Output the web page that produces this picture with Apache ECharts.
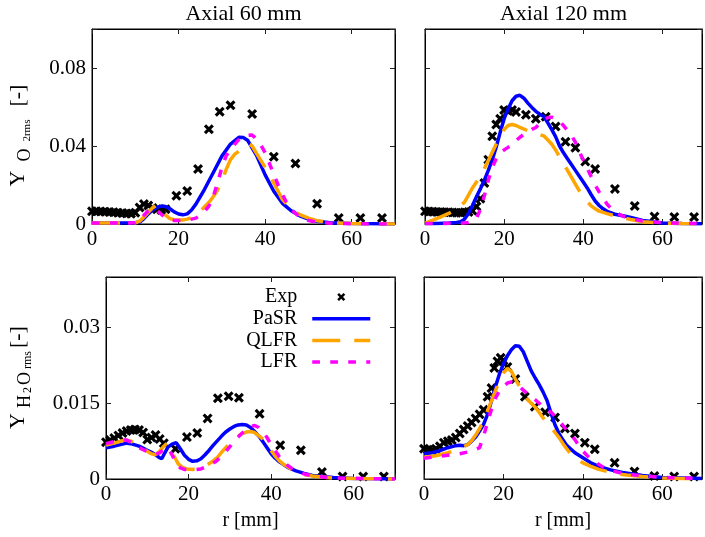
<!DOCTYPE html>
<html><head><meta charset="utf-8">
<script src="https://cdn.jsdelivr.net/npm/echarts@6/dist/echarts.min.js"></script>
<style>html,body{margin:0;padding:0;background:#fff}#c{width:705px;height:537px}</style>
</head><body><div id="c"></div>
<script>
// ---------- DATA ----------
const xTicks = [0, 20, 40, 60];
const titles = ['Axial 60 mm', 'Axial 120 mm'];
const seriesNames = ['Exp', 'PaSR', 'QLFR', 'LFR'];

// Axial 60 mm, Y_O2 rms
const o2_60_exp_r = [0,1,2,3,4,5,6,7,8,9,10,11,12,13,14,15,16,17,19.5,22,24.5,27,29.5,32,37,42,47,52,57,62,67];
const o2_60_exp_v = [0.0065,0.0065,0.0064,0.0063,0.0062,0.006,0.0058,0.0056,0.0054,0.0053,0.0058,0.0085,0.0102,0.0095,0.0082,0.0076,0.0072,0.0076,0.0145,0.0169,0.0282,0.0486,0.0576,0.0609,0.0564,0.0345,0.031,0.0104,0.0031,0.0031,0.0031];
const o2_60_pasr_r = [0,5,10,11,12,13,14,15,16,17,18,19,20,21,22,23,24,26,28,30,32,34,35,36,38,40,42,44,46,48,50,52,55,60,65,70];
const o2_60_pasr_v = [0.0005,0.0005,0.0006,0.001,0.0028,0.0052,0.0072,0.0085,0.0092,0.009,0.0078,0.0062,0.0051,0.0047,0.0052,0.0072,0.0102,0.0178,0.0263,0.0348,0.041,0.0445,0.0443,0.0428,0.0352,0.0252,0.0168,0.0106,0.0068,0.0042,0.0025,0.0014,0.0006,0.0002,0.0001,0];
const o2_60_qlfr_r = [0,5,10,11,12,13,14,15,16,17,18,19,20,21,22,23,24,25,26,27,28,29,30,31,32,33,34,35,36,37,38,40,42,44,46,48,50,52,55,60,70];
const o2_60_qlfr_v = [0.0005,0.0005,0.0006,0.0015,0.0035,0.006,0.0083,0.0097,0.008,0.0045,0.0028,0.0021,0.002,0.0021,0.0025,0.0032,0.0045,0.0065,0.0088,0.011,0.014,0.0174,0.022,0.028,0.033,0.0358,0.0375,0.0398,0.0412,0.04,0.0362,0.029,0.021,0.0125,0.0078,0.0048,0.003,0.0017,0.0007,0.0002,0];
const o2_60_lfr_r = [0,5,10,11,12,13,14,15,16,17,18,19,20,22,24,25,26,27,28,29,30,31,32,33,34,35,36,37,38,39,40,41,42,43,44,45,46,48,50,52,55,60,70];
const o2_60_lfr_v = [0.0005,0.0005,0.0006,0.0015,0.0045,0.0068,0.0078,0.007,0.005,0.003,0.002,0.0018,0.0018,0.002,0.003,0.0045,0.0065,0.0092,0.014,0.021,0.029,0.035,0.038,0.041,0.0435,0.0448,0.0455,0.0457,0.0435,0.0405,0.0365,0.031,0.0255,0.02,0.015,0.0108,0.0075,0.0035,0.0018,0.0009,0.0004,0.0001,0];

// Axial 120 mm, Y_O2 rms
const o2_120_exp_r = [0,1,2,3,4,5,6,7,8,9,10,11,12,13,14,15,16,17,18,19,20,21,22,23,25.5,28,30.5,33,35.5,38,40.5,43,48,53,58,63,68];
const o2_120_exp_v = [0.0065,0.0064,0.0063,0.0062,0.0061,0.006,0.006,0.0059,0.0058,0.0058,0.006,0.0062,0.0068,0.009,0.013,0.021,0.033,0.045,0.051,0.054,0.0585,0.058,0.0585,0.0575,0.056,0.054,0.055,0.05,0.0422,0.0391,0.032,0.0282,0.018,0.0092,0.0038,0.0036,0.0036];
const o2_120_pasr_r = [0,3,6,8,9,10,11,12,13,14,15,16,17,18,19,20,21,22,23,24,25,26,27,28,29,30,31,32,33,34,35,36,37,38,39,40,41,42,43,44,45,46,48,50,52,55,60,65,70];
const o2_120_pasr_v = [0.0002,0.0003,0.0005,0.0008,0.0012,0.0025,0.0055,0.0095,0.014,0.018,0.0225,0.0275,0.033,0.0395,0.047,0.054,0.059,0.0632,0.0655,0.066,0.0645,0.062,0.0598,0.0578,0.0563,0.0552,0.052,0.0485,0.0448,0.04,0.0365,0.0335,0.0305,0.0275,0.0245,0.0215,0.0185,0.015,0.0118,0.0095,0.0078,0.0065,0.005,0.0042,0.0034,0.0018,0.0005,0.0002,0.0001];
const o2_120_qlfr_r = [0,2,4,6,8,10,12,14,16,18,19,20,21,22,23,24,26,28,30,31,32,33,34,35,36,37,38,39,40,41,42,43,44,46,48,50,52,55,60,65,70];
const o2_120_qlfr_v = [0.0005,0.002,0.0037,0.0054,0.0078,0.0112,0.0185,0.0245,0.0325,0.041,0.045,0.0485,0.0505,0.051,0.0505,0.0495,0.0478,0.0465,0.0452,0.0432,0.041,0.038,0.0345,0.031,0.0275,0.024,0.0205,0.017,0.0142,0.0115,0.0093,0.0078,0.0066,0.0053,0.0042,0.0032,0.0023,0.0012,0.0004,0.0002,0.0001];
const o2_120_lfr_r = [0,5,9,11,12,13,14,15,16,17,18,19,20,21,22,23,24,25,26,27,28,29,30,31,32,33,34,35,36,37,38,39,40,41,42,43,44,45,46,47,48,50,52,55,58,62,70];
const o2_120_lfr_v = [0.0002,0.0003,0.0004,0.0008,0.0015,0.003,0.0075,0.0145,0.0225,0.029,0.0335,0.0365,0.038,0.0393,0.0405,0.0428,0.0445,0.046,0.0472,0.0485,0.0495,0.0515,0.0535,0.0545,0.0548,0.054,0.0525,0.0505,0.048,0.0455,0.042,0.037,0.0328,0.0285,0.0243,0.02,0.0165,0.0132,0.0102,0.008,0.0063,0.004,0.0027,0.0015,0.001,0.0005,0.0002];

// Axial 60 mm, Y_H2O rms
const h2o_60_exp_r = [0,1,2,3,4,5,6,7,8,9,10,11,12,13,14,16.8,19.6,22.1,24.6,27.1,29.7,32.2,37.2,42.2,47.2,52.3,57.3,62.3,67.3];
const h2o_60_exp_v = [0.0073,0.0077,0.0081,0.0086,0.0091,0.0095,0.0097,0.0098,0.0097,0.0092,0.0078,0.0082,0.0087,0.0079,0.0071,0.006,0.0083,0.0091,0.012,0.016,0.0164,0.0161,0.0129,0.0067,0.0057,0.0014,0.0005,0.0005,0.0005];
const h2o_60_pasr_r = [0,2,4,5,6,8,10,11,12,13,13.5,14,15,16,17,18,19,20,21,22,23,24,25,26,27,28,29,30,31,32,33,34,35,36,37,38,39,40,41,42,44,46,48,50,55,60,70];
const h2o_60_pasr_v = [0.0062,0.0065,0.0069,0.0071,0.007,0.0065,0.0057,0.0053,0.0048,0.0042,0.004,0.0048,0.0063,0.0069,0.0072,0.006,0.0047,0.0039,0.0035,0.0036,0.004,0.0048,0.0057,0.0067,0.0076,0.0085,0.0093,0.0099,0.0104,0.0107,0.0108,0.0107,0.0102,0.0094,0.0085,0.0074,0.0062,0.005,0.0041,0.0034,0.0023,0.0016,0.0011,0.0007,0.0003,0.0001,0];
const h2o_60_qlfr_r = [0,2,4,5,6,8,10,11,12,13,14,14.8,15.5,16.5,17.5,18.5,19.5,21,22.5,24,25.5,27,28,29,30,31,32,33,34,35,36,37,38,39,40,41,42,43,44,46,48,50,55,60,70];
const h2o_60_qlfr_v = [0.0067,0.0071,0.0076,0.0077,0.0075,0.0066,0.0055,0.005,0.0048,0.0055,0.0065,0.0071,0.0062,0.0045,0.003,0.0023,0.002,0.0019,0.0021,0.0026,0.0033,0.0043,0.0053,0.0062,0.0071,0.0079,0.0085,0.009,0.0093,0.0094,0.0092,0.0086,0.0079,0.0068,0.0056,0.0045,0.0036,0.0029,0.0024,0.0014,0.0009,0.0006,0.0002,0.0001,0];
const h2o_60_lfr_r = [0,2,4,5,6,8,10,12,13,14,15,16,17,18,19,21,23,25,26.5,28,29,30,31,32,33,34,35,36,37,38,39,40,41,42,43,44,45,46,48,50,55,70];
const h2o_60_lfr_v = [0.007,0.0074,0.0077,0.0077,0.0073,0.0062,0.0054,0.0049,0.0052,0.0058,0.0062,0.0048,0.003,0.0022,0.0019,0.0018,0.002,0.0027,0.0034,0.0045,0.0054,0.0064,0.0074,0.0083,0.0091,0.0098,0.0104,0.0106,0.0102,0.0094,0.0082,0.0068,0.0056,0.0044,0.0034,0.0027,0.0021,0.0016,0.001,0.0006,0.0002,0];

// Axial 120 mm, Y_H2O rms
const h2o_120_exp_r = [0,1,2,3,4,5,6,7,8,9,10,11,12,13,14,15,16,17,17.7,18.5,19.3,20,21,23,25.4,27.9,30.5,33,35.5,38,40.5,43,48,53,58,63,68];
const h2o_120_exp_v = [0.006,0.0058,0.0057,0.006,0.0065,0.0072,0.0075,0.0077,0.0082,0.009,0.0098,0.0105,0.0112,0.012,0.0128,0.0137,0.0163,0.018,0.022,0.0233,0.024,0.0235,0.0222,0.0198,0.0163,0.0143,0.0132,0.0122,0.01,0.009,0.0072,0.0059,0.0032,0.0015,0.0006,0.0005,0.0005];
const h2o_120_pasr_r = [0,2,4,6,8,9,10,11,12,13,14,15,16,17,18,19,20,21,22,23,23.5,24,25,26,27,28,29,30,31,32,33,34,35,36,38,40,42,44,47,50,55,60,65,70];
const h2o_120_pasr_v = [0.005,0.0052,0.0056,0.0062,0.0066,0.0067,0.0066,0.0068,0.0075,0.0083,0.0095,0.0108,0.0128,0.0155,0.0183,0.0208,0.0228,0.0244,0.0256,0.0264,0.0266,0.0263,0.0252,0.0233,0.0214,0.02,0.0187,0.0172,0.0155,0.013,0.0107,0.009,0.0077,0.0066,0.0052,0.0042,0.0032,0.0025,0.0018,0.0013,0.0007,0.0003,0.0002,0.0001];
const h2o_120_qlfr_r = [0,3,6,9,11,12,13,14,15,16,17,18,19,20,21,22,23,24,25,26,27,28,29,30,31,32,33,34,35,36,37,38,40,42,44,46,48,51,55,60,70];
const h2o_120_qlfr_v = [0.0043,0.0046,0.0052,0.006,0.0068,0.0076,0.0087,0.01,0.0115,0.0135,0.0155,0.0175,0.0195,0.021,0.0219,0.0213,0.0198,0.0184,0.017,0.0158,0.015,0.0142,0.0132,0.0121,0.0112,0.0102,0.0092,0.0082,0.007,0.0059,0.0049,0.0042,0.0032,0.0025,0.0019,0.0015,0.0011,0.0008,0.0005,0.0002,0];
const h2o_120_lfr_r = [0,3,6,9,12,14,15,16,17,18,19,20,21,22,23,24,25,26,27,28,29,30,31,32,33,34,35,36,37,38,39,40,41,42,43,45,47,50,53,60,70];
const h2o_120_lfr_v = [0.0041,0.0044,0.0047,0.005,0.0055,0.0062,0.0085,0.0112,0.0138,0.016,0.0175,0.0184,0.019,0.0192,0.0189,0.0183,0.0176,0.0169,0.0163,0.0157,0.015,0.0143,0.0138,0.0132,0.0124,0.0116,0.0106,0.0096,0.0088,0.0078,0.0066,0.0055,0.0047,0.004,0.0034,0.0024,0.0017,0.0011,0.0008,0.0003,0.0001];

// ---------- CHART ----------
const F = 'Liberation Serif';
const XPATH = 'path://M0,2.2L2.2,0L5,2.8L7.8,0L10,2.2L7.2,5L10,7.8L7.8,10L5,7.2L2.2,10L0,7.8L2.8,5Z';
const zip = (r, v) => r.map((x, i) => [x, v[i]]);

const panels = [
  { grid: {left: 92, top: 29, width: 303, height: 195}, yMax: 0.1, yInt: 0.04, yLab: true, title: titles[0], xName: '',
    d: [[o2_60_exp_r, o2_60_exp_v], [o2_60_pasr_r, o2_60_pasr_v], [o2_60_qlfr_r, o2_60_qlfr_v], [o2_60_lfr_r, o2_60_lfr_v]] },
  { grid: {left: 425, top: 29, width: 286, height: 195}, yMax: 0.1, yInt: 0.04, yLab: false, title: titles[1], xName: '',
    d: [[o2_120_exp_r, o2_120_exp_v], [o2_120_pasr_r, o2_120_pasr_v], [o2_120_qlfr_r, o2_120_qlfr_v], [o2_120_lfr_r, o2_120_lfr_v]] },
  { grid: {left: 106, top: 277, width: 289, height: 202}, yMax: 0.04, yInt: 0.015, yLab: true, title: '', xName: 'r [mm]',
    d: [[h2o_60_exp_r, h2o_60_exp_v], [h2o_60_pasr_r, h2o_60_pasr_v], [h2o_60_qlfr_r, h2o_60_qlfr_v], [h2o_60_lfr_r, h2o_60_lfr_v]] },
  { grid: {left: 424, top: 277, width: 287, height: 202}, yMax: 0.04, yInt: 0.015, yLab: false, title: '', xName: 'r [mm]',
    d: [[h2o_120_exp_r, h2o_120_exp_v], [h2o_120_pasr_r, h2o_120_pasr_v], [h2o_120_qlfr_r, h2o_120_qlfr_v], [h2o_120_lfr_r, h2o_120_lfr_v]] }
];

const lineCol = ['#0000ff', '#ffa500', '#ff00ff'];
const lineType = ['solid', [28, 14], [7.7, 10.3]];
const axLine = {show: true, onZero: false, lineStyle: {color: '#000', width: 1}};
const tick = {show: true, inside: true, length: 5, lineStyle: {color: '#222', width: 1}};
const txt = {color: '#000', fontFamily: F, fontSize: 20};
const tickTxt = {color: '#000', fontFamily: F, fontSize: 21};

const grid = [], xAxis = [], yAxis = [], series = [];
panels.forEach((p, i) => {
  grid.push(Object.assign({show: true, borderColor: '#000', borderWidth: 1, backgroundColor: 'transparent'}, p.grid));
  xAxis.push({gridIndex: i, type: 'value', position: 'bottom', min: 0, max: 70, interval: 20,
    axisLine: axLine, axisTick: tick, splitLine: {show: false},
    axisLabel: Object.assign({margin: 5, formatter: v => xTicks.indexOf(v) >= 0 ? String(v) : ''}, tickTxt),
    name: p.xName, nameLocation: 'middle', nameGap: 32, nameTextStyle: txt});
  xAxis.push({gridIndex: i, type: 'value', position: 'top', min: 0, max: 70, interval: 20,
    axisLine: axLine, axisTick: tick, splitLine: {show: false}, axisLabel: {show: false},
    name: p.title, nameLocation: 'middle', nameGap: 4, nameTextStyle: {color: '#000', fontFamily: F, fontSize: 22}});
  const yfmt = v => { const k = v / p.yInt; if (Math.abs(k - Math.round(k)) > 1e-6) return ''; return v === 0 ? '0' : String(+v.toFixed(4)); };
  yAxis.push({gridIndex: i, type: 'value', position: 'left', min: 0, max: p.yMax, interval: p.yInt,
    axisLine: axLine, axisTick: tick, splitLine: {show: false},
    axisLabel: Object.assign({show: p.yLab, margin: 6, formatter: yfmt}, tickTxt)});
  yAxis.push({gridIndex: i, type: 'value', position: 'right', min: 0, max: p.yMax, interval: p.yInt,
    axisLine: axLine, axisTick: tick, splitLine: {show: false}, axisLabel: {show: false}});
  series.push({name: seriesNames[0], type: 'scatter', xAxisIndex: 2 * i, yAxisIndex: 2 * i,
    symbol: XPATH, symbolSize: 10, itemStyle: {color: '#000', opacity: 1}, data: zip(p.d[0][0], p.d[0][1])});
  for (let k = 1; k < 4; k++) {
    series.push({name: seriesNames[k], type: 'line', xAxisIndex: 2 * i, yAxisIndex: 2 * i,
      symbol: 'none', smooth: false, itemStyle: {color: lineCol[k - 1]},
      lineStyle: {color: lineCol[k - 1], width: 3.5, type: lineType[k - 1]},
      data: zip(p.d[k][0], p.d[k][1])});
  }
});

const base = {fontFamily: F, fill: '#000'};
const rich = {
  big:  Object.assign({fontSize: 22}, base),
  tO:   Object.assign({fontSize: 18, padding: [13, 0, 0, 9]}, base),
  t2:   Object.assign({fontSize: 11, padding: [18, 0, 0, 7]}, base),
  tBr:  Object.assign({fontSize: 22, padding: [0, 0, 0, 13]}, base),
  bH:   Object.assign({fontSize: 18, padding: [13, 0, 0, 5]}, base),
  b2:   Object.assign({fontSize: 12, padding: [18, 0, 0, 2]}, base),
  bO:   Object.assign({fontSize: 18, padding: [13, 0, 0, 2]}, base),
  bR:   Object.assign({fontSize: 12, padding: [18, 0, 0, 3]}, base),
  bBr:  Object.assign({fontSize: 22, padding: [0, 0, 0, 3]}, base)
};

const hiddenSym = {opacity: 0, borderWidth: 0};
const option = {
  animation: false,
  backgroundColor: '#fff',
  grid, xAxis, yAxis, series,
  legend: {
    data: [
      {name: seriesNames[0], itemStyle: {color: '#000', opacity: 1}},
      {name: seriesNames[1], itemStyle: hiddenSym},
      {name: seriesNames[2], itemStyle: hiddenSym},
      {name: seriesNames[3], itemStyle: hiddenSym}
    ],
    orient: 'vertical', align: 'right', right: 333, top: 287, padding: 0,
    itemWidth: 58, itemHeight: 8, itemGap: 1.7, selectedMode: false,
    formatter: n => n + '\u2002',
    lineStyle: {width: 3.5},
    textStyle: {color: '#000', fontFamily: F, fontSize: 20, lineHeight: 20}
  },
  graphic: [
    {type: 'text', x: 18.5, y: 135.5, rotation: Math.PI / 2,
      style: {text: '{big|Y}{tO|O}{t2|2rms}{tBr|[-]}', rich, align: 'center', verticalAlign: 'middle'}},
    {type: 'text', x: 18.5, y: 377.5, rotation: Math.PI / 2,
      style: {text: '{big|Y}{bH|H}{b2|2}{bO|O}{bR|rms}{bBr|[-]}', rich, align: 'center', verticalAlign: 'middle'}}
  ]
};
const chart = echarts.init(document.getElementById('c'));
chart.setOption(option);
</script></body></html>
